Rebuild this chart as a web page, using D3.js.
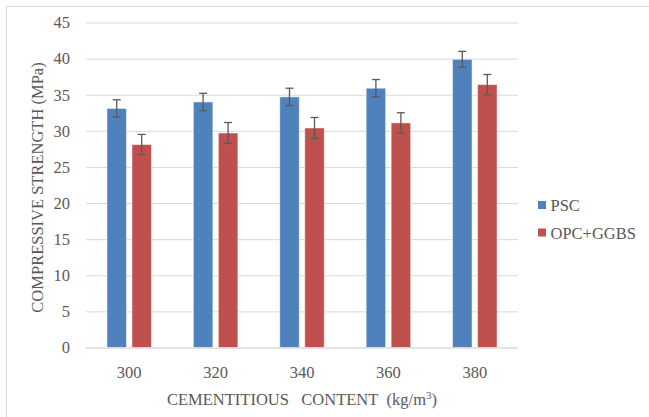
<!DOCTYPE html>
<html><head><meta charset="utf-8">
<script src="https://cdn.jsdelivr.net/npm/d3@7"></script>
<style>body{margin:0;background:#fff}svg{display:block}svg text{font-family:'Liberation Serif','Tinos','Times New Roman',Times,'DejaVu Serif',serif !important;fill:#595959}</style>
</head><body>
<script>
const categories = ["300","320","340","360","380"];
const seriesNames = ["PSC","OPC+GGBS"];
const psc = [33.1, 34.0, 34.7, 35.9, 39.9];
const opc = [28.1, 29.7, 30.4, 31.1, 36.4];
const pscErr = [1.2, 1.2, 1.2, 1.2, 1.1];
const opcErr = [1.4, 1.45, 1.45, 1.4, 1.4];
const yTicks = [0,5,10,15,20,25,30,35,40,45];
const colors = ["#4F81BD","#C0504D"];

(function(){
const W = 649, H = 417, FS = "16.5px";
const svg = d3.select("body").append("svg").attr("width",W).attr("height",H);
svg.append("line").attr("x1",6.5).attr("x2",W).attr("y1",6.5).attr("y2",6.5).attr("stroke","#D9D9D9");
svg.append("line").attr("x1",6.5).attr("x2",6.5).attr("y1",6.5).attr("y2",H).attr("stroke","#D9D9D9");

const pl = 86, pr = 518, pt = 22.5, pb = 347.5;
const x = d3.scaleBand().domain(categories).range([pl,pr]);
const y = d3.scaleLinear().domain([0,45]).range([pb,pt]);

const grid = svg.append("g").attr("transform",`translate(${pl},0)`)
  .call(d3.axisLeft(y).tickValues(yTicks).tickSize(-(pr-pl)).tickFormat(""));
grid.select(".domain").remove();
grid.selectAll("line").attr("stroke","#D9D9D9").attr("stroke-width",1);

const ya = svg.append("g").attr("transform",`translate(${pl},0)`)
  .call(d3.axisLeft(y).tickValues(yTicks).tickSize(0).tickPadding(16));
ya.attr("font-family",null).attr("font-size",null);
ya.select(".domain").remove();
ya.selectAll("text").style("font-size",FS);

const xa = svg.append("g").attr("transform",`translate(0,${pb})`)
  .call(d3.axisBottom(x).tickSize(0).tickPadding(18.5));
xa.attr("font-family",null).attr("font-size",null);
xa.select(".domain").remove();
xa.selectAll("text").style("font-size",FS);

const bw = 19.5, gap = 5.5;
const series = [psc, opc], errs = [pscErr, opcErr];
series.forEach((vals, si) => {
  const off = si === 0 ? -(gap/2 + bw) : gap/2;
  const g = svg.append("g");
  g.selectAll("rect").data(vals).join("rect")
    .attr("x",(d,i)=>x.bandwidth()/2 + x(categories[i]) + off)
    .attr("y",d=>y(d)).attr("width",bw).attr("height",d=>pb - y(d))
    .attr("fill",colors[si]).attr("stroke","#fff").attr("stroke-opacity",0.5).attr("stroke-width",1);
  const e = svg.append("g").attr("stroke","#595959").attr("stroke-width",1.3);
  vals.forEach((d,i)=>{
    const cx = x(categories[i]) + x.bandwidth()/2 + off + bw/2;
    const hi = y(d + errs[si][i]), lo = y(d - errs[si][i]);
    e.append("line").attr("x1",cx).attr("x2",cx).attr("y1",hi).attr("y2",lo);
    e.append("line").attr("x1",cx-4).attr("x2",cx+4).attr("y1",hi).attr("y2",hi);
    e.append("line").attr("x1",cx-4).attr("x2",cx+4).attr("y1",lo).attr("y2",lo);
  });
});

svg.append("line").attr("x1",pl).attr("x2",pr).attr("y1",pb+0.5).attr("y2",pb+0.5).attr("stroke","#D9D9D9");

svg.append("text").attr("transform",`translate(43,187.5) rotate(-90)`)
  .attr("text-anchor","middle").style("font-size",FS).text("COMPRESSIVE STRENGTH (MPa)");
const xt = svg.append("text").attr("x",302).attr("y",405).attr("text-anchor","middle").style("font-size",FS);
xt.append("tspan").text("CEMENTITIOUS\u00A0\u00A0 CONTENT\u00A0 (kg/m");
xt.append("tspan").attr("dy",-6).style("font-size","11px").text("3");
xt.append("tspan").attr("dy",6).text(")");

seriesNames.forEach((n,i)=>{
  const ly = 201 + i*27.5;
  svg.append("rect").attr("x",538).attr("y",ly).attr("width",8).attr("height",8).attr("fill",colors[i]);
  svg.append("text").attr("x",550.5).attr("y",ly+10).style("font-size",FS).text(n);
});
})();
</script>
</body></html>
